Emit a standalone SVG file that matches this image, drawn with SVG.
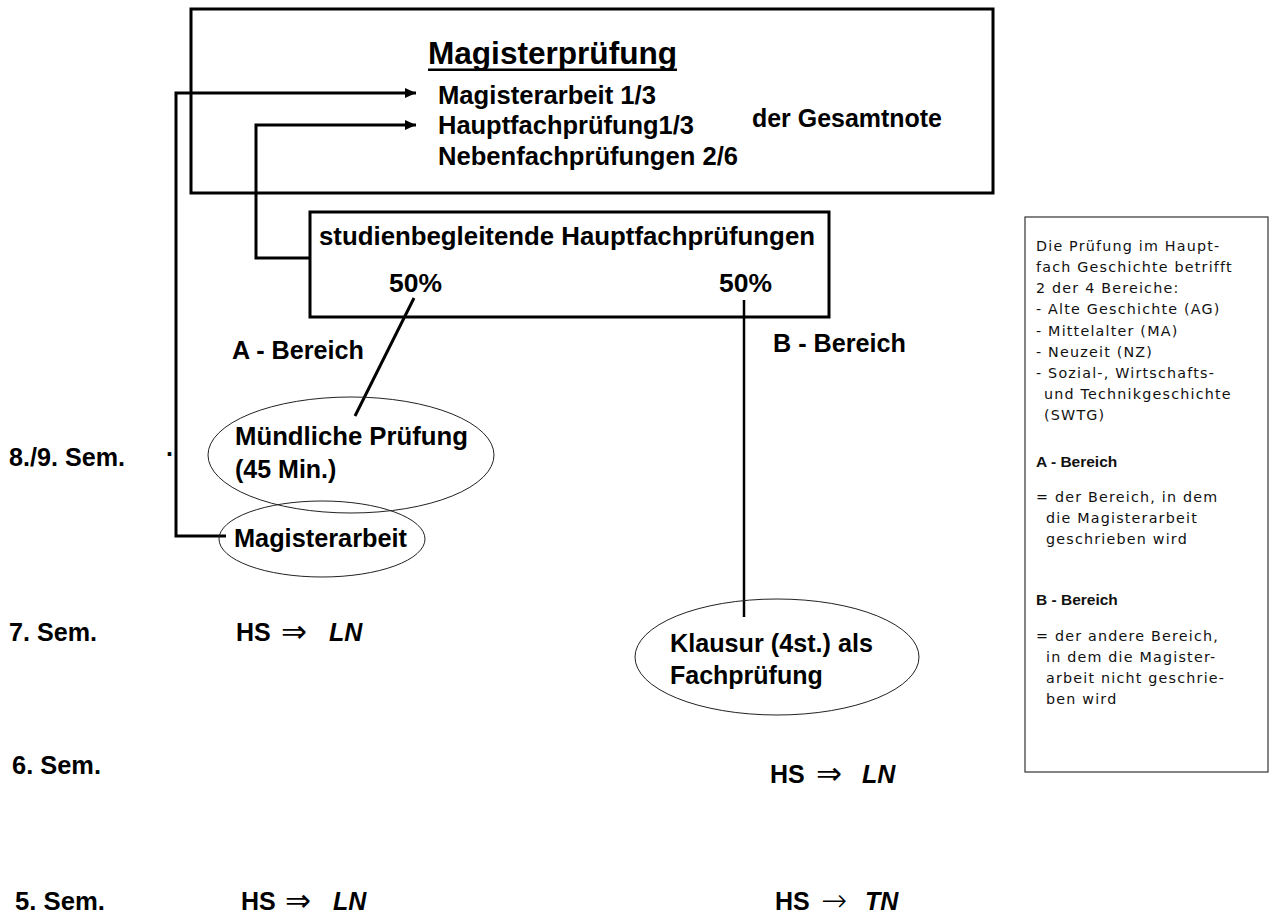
<svg xmlns="http://www.w3.org/2000/svg" width="1271" height="916" viewBox="0 0 1271 916">
<style>
.t{font-family:"Liberation Sans",Arial,sans-serif;font-weight:bold;font-size:25px;fill:#000}
.title{font-family:"Liberation Sans",Arial,sans-serif;font-weight:bold;font-size:31px;fill:#000}
.sym{font-family:"DejaVu Sans",sans-serif;font-weight:200;font-size:31px;fill:#000}
.it{font-style:italic}
.s{font-family:"DejaVu Sans",sans-serif;font-size:14.3px;letter-spacing:1.2px;fill:#111}
.sb{font-family:"Liberation Sans",Arial,sans-serif;font-size:15.5px;font-weight:bold;fill:#111}
.box{fill:#fff;stroke:#000;stroke-width:3}
.ell{fill:none;stroke:#222;stroke-width:1}
.con{fill:none;stroke:#000;stroke-width:3}
</style>
<defs>
<marker id="ah" markerUnits="userSpaceOnUse" markerWidth="12" markerHeight="10" refX="11" refY="5" orient="auto">
<path d="M0,0 L11,5 L0,10 z" fill="#000"/>
</marker>
</defs>
<rect width="1271" height="916" fill="#fff"/>

<g id="magisterpruefung">
<rect class="box" x="191" y="9" width="802" height="184"/>
<text class="title" x="428" y="64" textLength="249" lengthAdjust="spacingAndGlyphs">Magisterprüfung</text>
<rect x="428" y="68.5" width="249" height="2.5" fill="#000"/>
<text class="t" x="438" y="104" textLength="218" lengthAdjust="spacingAndGlyphs">Magisterarbeit 1/3</text>
<text class="t" x="438" y="134" textLength="256" lengthAdjust="spacingAndGlyphs">Hauptfachprüfung1/3</text>
<text class="t" x="438" y="165" textLength="300" lengthAdjust="spacingAndGlyphs">Nebenfachprüfungen 2/6</text>
<text class="t" x="752" y="127" textLength="190" lengthAdjust="spacingAndGlyphs">der Gesamtnote</text>
</g>

<g id="studienbegleitende">
<rect class="box" x="310" y="212" width="519" height="105"/>
<text class="t" x="319" y="245" textLength="496" lengthAdjust="spacingAndGlyphs">studienbegleitende Hauptfachprüfungen</text>
<text class="t" x="389" y="292" textLength="53" lengthAdjust="spacingAndGlyphs">50%</text>
<text class="t" x="719" y="292" textLength="53" lengthAdjust="spacingAndGlyphs">50%</text>
</g>

<g id="labels">
<text class="t" x="232" y="359" textLength="132" lengthAdjust="spacingAndGlyphs">A - Bereich</text>
<text class="t" x="773" y="352" textLength="133" lengthAdjust="spacingAndGlyphs">B - Bereich</text>
<text class="t" x="9" y="466" textLength="116" lengthAdjust="spacingAndGlyphs">8./9. Sem.</text>
<text class="t" x="166" y="456">.</text>
<text class="t" x="9" y="641" textLength="88" lengthAdjust="spacingAndGlyphs">7. Sem.</text>
<text class="t" x="12" y="774" textLength="89" lengthAdjust="spacingAndGlyphs">6. Sem.</text>
<text class="t" x="15" y="910" textLength="90" lengthAdjust="spacingAndGlyphs">5. Sem.</text>
</g>

<g id="hs7">
<text class="t" x="236" y="641">HS</text><text class="sym" x="281" y="642">⇒</text><text class="t it" x="329" y="641">LN</text>
</g>
<g id="hs6">
<text class="t" x="770" y="783">HS</text><text class="sym" x="816" y="784">⇒</text><text class="t it" x="862" y="783">LN</text>
</g>
<g id="hs5a">
<text class="t" x="241" y="910">HS</text><text class="sym" x="285" y="911">⇒</text><text class="t it" x="333" y="910">LN</text>
</g>
<g id="hs5b">
<text class="t" x="775" y="910">HS</text><text class="sym" x="821" y="911">→</text><text class="t it" x="865" y="910">TN</text>
</g>

<g id="connectors">
<path class="con" d="M226,536 H176 V93 H416" marker-end="url(#ah)"/>
<path class="con" d="M310,258 H256 V125 H416" marker-end="url(#ah)"/>
<line class="con" x1="414" y1="298" x2="355" y2="416"/>
<line x1="744" y1="300" x2="744" y2="617" stroke="#000" stroke-width="2.5"/>
</g>

<g id="muendliche">
<ellipse class="ell" cx="351" cy="455" rx="143" ry="58"/>
<text class="t" x="235" y="445" textLength="233" lengthAdjust="spacingAndGlyphs">Mündliche Prüfung</text>
<text class="t" x="235" y="478">(45 Min.)</text>
</g>

<g id="magisterarbeit">
<ellipse class="ell" cx="322" cy="539" rx="103" ry="38"/>
<text class="t" x="234" y="547" textLength="173" lengthAdjust="spacingAndGlyphs">Magisterarbeit</text>
</g>

<g id="klausur">
<ellipse class="ell" cx="777" cy="657" rx="142" ry="58"/>
<text class="t" x="670" y="652" textLength="203" lengthAdjust="spacingAndGlyphs">Klausur (4st.) als</text>
<text class="t" x="670" y="684">Fachprüfung</text>
</g>

<g id="info">
<rect x="1025" y="217" width="243" height="555" fill="#fff" stroke="#333" stroke-width="1.2"/>
<text class="s" x="1036" y="251">Die Prüfung im Haupt-</text>
<text class="s" x="1036" y="272">fach Geschichte betrifft</text>
<text class="s" x="1036" y="293">2 der 4 Bereiche:</text>
<text class="s" x="1036" y="314">- Alte Geschichte (AG)</text>
<text class="s" x="1036" y="336">- Mittelalter (MA)</text>
<text class="s" x="1036" y="357">- Neuzeit (NZ)</text>
<text class="s" x="1036" y="378">- Sozial-, Wirtschafts-</text>
<text class="s" x="1044" y="399">und Technikgeschichte</text>
<text class="s" x="1044" y="420">(SWTG)</text>
<text class="sb" x="1036" y="467">A - Bereich</text>
<text class="s" x="1036" y="502">= der Bereich, in dem</text>
<text class="s" x="1046" y="523">die Magisterarbeit</text>
<text class="s" x="1046" y="544">geschrieben wird</text>
<text class="sb" x="1036" y="605">B - Bereich</text>
<text class="s" x="1036" y="641">= der andere Bereich,</text>
<text class="s" x="1046" y="662">in dem die Magister-</text>
<text class="s" x="1046" y="683">arbeit nicht geschrie-</text>
<text class="s" x="1046" y="704">ben wird</text>
</g>
</svg>
